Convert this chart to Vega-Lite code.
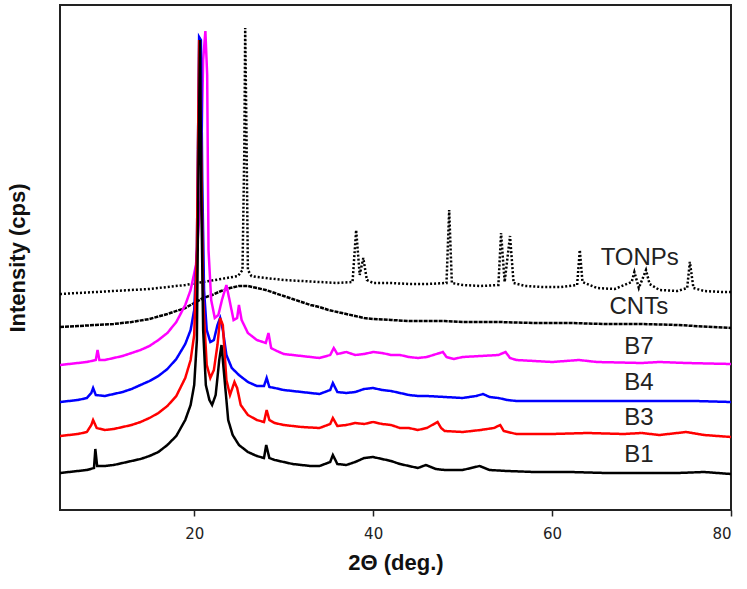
{
  "$schema": "https://vega.github.io/schema/vega-lite/v6.json",
  "width": 671,
  "height": 505,
  "autosize": "none",
  "padding": {"left": 60, "top": 5, "right": 16, "bottom": 79},
  "background": "white",
  "config": {
    "view": {"stroke": "#222", "strokeWidth": 2},
    "font": "Liberation Sans"
  },
  "datasets": {
    "xrd": [
      {"s":"TONPs","x":5,"y":216},{"s":"TONPs","x":7,"y":217},{"s":"TONPs","x":9,"y":218},{"s":"TONPs","x":11,"y":219},{"s":"TONPs","x":13,"y":220},{"s":"TONPs","x":15,"y":221},{"s":"TONPs","x":17,"y":223},{"s":"TONPs","x":19,"y":225},{"s":"TONPs","x":21,"y":228},{"s":"TONPs","x":23,"y":231},{"s":"TONPs","x":24.9,"y":234},{"s":"TONPs","x":25.4,"y":240},{"s":"TONPs","x":25.6,"y":360},{"s":"TONPs","x":25.7,"y":482},{"s":"TONPs","x":25.85,"y":370},{"s":"TONPs","x":26.0,"y":240},{"s":"TONPs","x":26.4,"y":234},{"s":"TONPs","x":27,"y":233},{"s":"TONPs","x":28,"y":232},{"s":"TONPs","x":30,"y":230},{"s":"TONPs","x":32,"y":229},{"s":"TONPs","x":34,"y":228},{"s":"TONPs","x":36,"y":227},{"s":"TONPs","x":37.7,"y":228},{"s":"TONPs","x":38.1,"y":280},{"s":"TONPs","x":38.5,"y":235},{"s":"TONPs","x":38.9,"y":252},{"s":"TONPs","x":39.3,"y":230},{"s":"TONPs","x":40,"y":227},{"s":"TONPs","x":42,"y":227},{"s":"TONPs","x":44,"y":226},{"s":"TONPs","x":46,"y":226},{"s":"TONPs","x":48.2,"y":227},{"s":"TONPs","x":48.5,"y":300},{"s":"TONPs","x":48.8,"y":227},{"s":"TONPs","x":50,"y":225},{"s":"TONPs","x":52,"y":224},{"s":"TONPs","x":54.0,"y":225},{"s":"TONPs","x":54.3,"y":277},{"s":"TONPs","x":54.7,"y":228},{"s":"TONPs","x":55.3,"y":274},{"s":"TONPs","x":55.7,"y":227},{"s":"TONPs","x":57,"y":224},{"s":"TONPs","x":59,"y":223},{"s":"TONPs","x":61,"y":223},{"s":"TONPs","x":62.8,"y":225},{"s":"TONPs","x":63.1,"y":260},{"s":"TONPs","x":63.4,"y":228},{"s":"TONPs","x":65,"y":222},{"s":"TONPs","x":67,"y":221},{"s":"TONPs","x":68.9,"y":228},{"s":"TONPs","x":69.2,"y":238},{"s":"TONPs","x":69.7,"y":222},{"s":"TONPs","x":70.5,"y":240},{"s":"TONPs","x":70.9,"y":226},{"s":"TONPs","x":72,"y":220},{"s":"TONPs","x":74,"y":219},{"s":"TONPs","x":75.1,"y":222},{"s":"TONPs","x":75.4,"y":248},{"s":"TONPs","x":75.8,"y":222},{"s":"TONPs","x":77,"y":219},{"s":"TONPs","x":79,"y":218},{"s":"TONPs","x":80,"y":218},

      {"s":"CNTs","x":5,"y":183},{"s":"CNTs","x":7,"y":184},{"s":"CNTs","x":9,"y":185},{"s":"CNTs","x":11,"y":186},{"s":"CNTs","x":13,"y":188},{"s":"CNTs","x":15,"y":191},{"s":"CNTs","x":17,"y":196},{"s":"CNTs","x":19,"y":202},{"s":"CNTs","x":20,"y":207},{"s":"CNTs","x":21,"y":212},{"s":"CNTs","x":22,"y":215},{"s":"CNTs","x":23,"y":219},{"s":"CNTs","x":24,"y":222},{"s":"CNTs","x":25,"y":224},{"s":"CNTs","x":26,"y":224},{"s":"CNTs","x":27,"y":222},{"s":"CNTs","x":28,"y":220},{"s":"CNTs","x":29,"y":217},{"s":"CNTs","x":30,"y":214},{"s":"CNTs","x":31,"y":211},{"s":"CNTs","x":32,"y":208},{"s":"CNTs","x":33,"y":205},{"s":"CNTs","x":34,"y":203},{"s":"CNTs","x":35,"y":200},{"s":"CNTs","x":36,"y":198},{"s":"CNTs","x":37,"y":196},{"s":"CNTs","x":38,"y":194},{"s":"CNTs","x":39,"y":192},{"s":"CNTs","x":40,"y":191},{"s":"CNTs","x":42,"y":190},{"s":"CNTs","x":44,"y":189},{"s":"CNTs","x":46,"y":189},{"s":"CNTs","x":48,"y":189},{"s":"CNTs","x":50,"y":188},{"s":"CNTs","x":54,"y":188},{"s":"CNTs","x":58,"y":187},{"s":"CNTs","x":62,"y":187},{"s":"CNTs","x":66,"y":186},{"s":"CNTs","x":70,"y":186},{"s":"CNTs","x":74,"y":185},{"s":"CNTs","x":78,"y":183},{"s":"CNTs","x":80,"y":182},

      {"s":"B7","x":5,"y":145},{"s":"B7","x":6,"y":146},{"s":"B7","x":7,"y":147},{"s":"B7","x":8,"y":148},{"s":"B7","x":9.0,"y":150},{"s":"B7","x":9.2,"y":160},{"s":"B7","x":9.4,"y":150},{"s":"B7","x":10,"y":150},{"s":"B7","x":11,"y":152},{"s":"B7","x":12,"y":154},{"s":"B7","x":13,"y":157},{"s":"B7","x":14,"y":160},{"s":"B7","x":15,"y":164},{"s":"B7","x":16,"y":170},{"s":"B7","x":17,"y":177},{"s":"B7","x":18,"y":188},{"s":"B7","x":19,"y":205},{"s":"B7","x":19.6,"y":220},{"s":"B7","x":20.2,"y":245},{"s":"B7","x":20.7,"y":310},{"s":"B7","x":21.0,"y":450},{"s":"B7","x":21.25,"y":479},{"s":"B7","x":21.45,"y":435},{"s":"B7","x":21.6,"y":260},{"s":"B7","x":21.9,"y":210},{"s":"B7","x":22.3,"y":192},{"s":"B7","x":22.7,"y":195},{"s":"B7","x":23.1,"y":210},{"s":"B7","x":23.6,"y":225},{"s":"B7","x":23.9,"y":212},{"s":"B7","x":24.4,"y":190},{"s":"B7","x":24.8,"y":192},{"s":"B7","x":25.0,"y":205},{"s":"B7","x":25.3,"y":190},{"s":"B7","x":26,"y":177},{"s":"B7","x":27,"y":170},{"s":"B7","x":28.0,"y":167},{"s":"B7","x":28.3,"y":177},{"s":"B7","x":28.6,"y":162},{"s":"B7","x":29,"y":160},{"s":"B7","x":30,"y":156},{"s":"B7","x":32,"y":154},{"s":"B7","x":34,"y":152},{"s":"B7","x":35.2,"y":155},{"s":"B7","x":35.6,"y":162},{"s":"B7","x":36,"y":156},{"s":"B7","x":37,"y":158},{"s":"B7","x":38,"y":155},{"s":"B7","x":39,"y":156},{"s":"B7","x":40,"y":158},{"s":"B7","x":41,"y":157},{"s":"B7","x":42,"y":155},{"s":"B7","x":43,"y":155},{"s":"B7","x":44,"y":153},{"s":"B7","x":45,"y":152},{"s":"B7","x":46,"y":153},{"s":"B7","x":47.8,"y":158},{"s":"B7","x":48.2,"y":153},{"s":"B7","x":49,"y":151},{"s":"B7","x":50,"y":153},{"s":"B7","x":52,"y":154},{"s":"B7","x":54,"y":155},{"s":"B7","x":54.8,"y":158},{"s":"B7","x":55.3,"y":152},{"s":"B7","x":56,"y":150},{"s":"B7","x":58,"y":149},{"s":"B7","x":60,"y":148},{"s":"B7","x":63,"y":150},{"s":"B7","x":65,"y":148},{"s":"B7","x":70,"y":147},{"s":"B7","x":72,"y":148},{"s":"B7","x":75,"y":147},{"s":"B7","x":80,"y":146},

      {"s":"B4","x":5,"y":108},{"s":"B4","x":6,"y":109},{"s":"B4","x":7,"y":110},{"s":"B4","x":8,"y":112},{"s":"B4","x":8.5,"y":117},{"s":"B4","x":8.7,"y":122},{"s":"B4","x":9.0,"y":115},{"s":"B4","x":10,"y":114},{"s":"B4","x":11,"y":116},{"s":"B4","x":12,"y":118},{"s":"B4","x":13,"y":121},{"s":"B4","x":14,"y":125},{"s":"B4","x":15,"y":129},{"s":"B4","x":16,"y":134},{"s":"B4","x":17,"y":141},{"s":"B4","x":18,"y":151},{"s":"B4","x":19,"y":166},{"s":"B4","x":19.6,"y":180},{"s":"B4","x":20.0,"y":200},{"s":"B4","x":20.3,"y":260},{"s":"B4","x":20.55,"y":473},{"s":"B4","x":20.75,"y":470},{"s":"B4","x":20.9,"y":330},{"s":"B4","x":21.1,"y":220},{"s":"B4","x":21.4,"y":180},{"s":"B4","x":21.8,"y":168},{"s":"B4","x":22.2,"y":170},{"s":"B4","x":22.6,"y":185},{"s":"B4","x":22.9,"y":192},{"s":"B4","x":23.2,"y":180},{"s":"B4","x":23.6,"y":155},{"s":"B4","x":24.2,"y":142},{"s":"B4","x":25,"y":135},{"s":"B4","x":26,"y":128},{"s":"B4","x":27,"y":124},{"s":"B4","x":27.8,"y":124},{"s":"B4","x":28.1,"y":132},{"s":"B4","x":28.4,"y":123},{"s":"B4","x":29,"y":122},{"s":"B4","x":30,"y":120},{"s":"B4","x":32,"y":118},{"s":"B4","x":34,"y":116},{"s":"B4","x":35.2,"y":120},{"s":"B4","x":35.5,"y":127},{"s":"B4","x":36,"y":118},{"s":"B4","x":37,"y":117},{"s":"B4","x":38,"y":118},{"s":"B4","x":39,"y":121},{"s":"B4","x":40,"y":122},{"s":"B4","x":41,"y":120},{"s":"B4","x":42,"y":119},{"s":"B4","x":43,"y":117},{"s":"B4","x":44,"y":115},{"s":"B4","x":45,"y":114},{"s":"B4","x":46,"y":114},{"s":"B4","x":48,"y":113},{"s":"B4","x":50,"y":112},{"s":"B4","x":51.5,"y":114},{"s":"B4","x":52.3,"y":116},{"s":"B4","x":53,"y":113},{"s":"B4","x":54,"y":112},{"s":"B4","x":55,"y":110},{"s":"B4","x":56,"y":109},{"s":"B4","x":60,"y":109},{"s":"B4","x":64,"y":109},{"s":"B4","x":68,"y":109},{"s":"B4","x":72,"y":109},{"s":"B4","x":76,"y":109},{"s":"B4","x":80,"y":108},

      {"s":"B3","x":5,"y":74},{"s":"B3","x":6,"y":75},{"s":"B3","x":7,"y":76},{"s":"B3","x":8,"y":78},{"s":"B3","x":8.5,"y":85},{"s":"B3","x":8.7,"y":90},{"s":"B3","x":9.1,"y":82},{"s":"B3","x":10,"y":80},{"s":"B3","x":11,"y":81},{"s":"B3","x":12,"y":83},{"s":"B3","x":13,"y":85},{"s":"B3","x":14,"y":88},{"s":"B3","x":15,"y":92},{"s":"B3","x":16,"y":97},{"s":"B3","x":17,"y":104},{"s":"B3","x":18,"y":114},{"s":"B3","x":19,"y":132},{"s":"B3","x":19.6,"y":150},{"s":"B3","x":20.0,"y":175},{"s":"B3","x":20.3,"y":260},{"s":"B3","x":20.55,"y":470},{"s":"B3","x":20.75,"y":380},{"s":"B3","x":21.0,"y":210},{"s":"B3","x":21.4,"y":145},{"s":"B3","x":21.8,"y":132},{"s":"B3","x":22.2,"y":140},{"s":"B3","x":22.6,"y":165},{"s":"B3","x":22.9,"y":192},{"s":"B3","x":23.2,"y":185},{"s":"B3","x":23.6,"y":130},{"s":"B3","x":24.0,"y":115},{"s":"B3","x":24.5,"y":128},{"s":"B3","x":24.8,"y":122},{"s":"B3","x":25.2,"y":105},{"s":"B3","x":26,"y":95},{"s":"B3","x":27,"y":90},{"s":"B3","x":27.8,"y":88},{"s":"B3","x":28.1,"y":100},{"s":"B3","x":28.4,"y":90},{"s":"B3","x":29,"y":87},{"s":"B3","x":30,"y":85},{"s":"B3","x":32,"y":83},{"s":"B3","x":34,"y":82},{"s":"B3","x":35.2,"y":86},{"s":"B3","x":35.5,"y":92},{"s":"B3","x":36,"y":84},{"s":"B3","x":37,"y":85},{"s":"B3","x":38,"y":87},{"s":"B3","x":39,"y":86},{"s":"B3","x":40,"y":88},{"s":"B3","x":41,"y":86},{"s":"B3","x":42,"y":85},{"s":"B3","x":43,"y":82},{"s":"B3","x":44,"y":82},{"s":"B3","x":45,"y":80},{"s":"B3","x":46,"y":82},{"s":"B3","x":47.2,"y":88},{"s":"B3","x":47.6,"y":82},{"s":"B3","x":48,"y":79},{"s":"B3","x":50,"y":78},{"s":"B3","x":52,"y":80},{"s":"B3","x":53.5,"y":82},{"s":"B3","x":54.2,"y":85},{"s":"B3","x":54.6,"y":79},{"s":"B3","x":56,"y":76},{"s":"B3","x":60,"y":76},{"s":"B3","x":64,"y":77},{"s":"B3","x":68,"y":76},{"s":"B3","x":70,"y":77},{"s":"B3","x":72,"y":75},{"s":"B3","x":75,"y":78},{"s":"B3","x":77,"y":75},{"s":"B3","x":80,"y":73},

      {"s":"B1","x":5,"y":37},{"s":"B1","x":6,"y":38},{"s":"B1","x":7,"y":39},{"s":"B1","x":8,"y":40},{"s":"B1","x":8.8,"y":42},{"s":"B1","x":8.95,"y":61},{"s":"B1","x":9.15,"y":44},{"s":"B1","x":10,"y":44},{"s":"B1","x":11,"y":45},{"s":"B1","x":12,"y":47},{"s":"B1","x":13,"y":49},{"s":"B1","x":14,"y":51},{"s":"B1","x":15,"y":54},{"s":"B1","x":16,"y":58},{"s":"B1","x":17,"y":65},{"s":"B1","x":18,"y":74},{"s":"B1","x":19,"y":90},{"s":"B1","x":19.6,"y":105},{"s":"B1","x":20.0,"y":125},{"s":"B1","x":20.3,"y":170},{"s":"B1","x":20.5,"y":360},{"s":"B1","x":20.65,"y":470},{"s":"B1","x":20.8,"y":310},{"s":"B1","x":21.0,"y":180},{"s":"B1","x":21.3,"y":125},{"s":"B1","x":21.7,"y":110},{"s":"B1","x":22.0,"y":105},{"s":"B1","x":22.4,"y":115},{"s":"B1","x":22.8,"y":150},{"s":"B1","x":23.05,"y":165},{"s":"B1","x":23.4,"y":130},{"s":"B1","x":23.8,"y":90},{"s":"B1","x":24.3,"y":75},{"s":"B1","x":25,"y":65},{"s":"B1","x":26,"y":58},{"s":"B1","x":27,"y":54},{"s":"B1","x":27.8,"y":52},{"s":"B1","x":28.05,"y":65},{"s":"B1","x":28.4,"y":52},{"s":"B1","x":29,"y":50},{"s":"B1","x":30,"y":48},{"s":"B1","x":31,"y":46},{"s":"B1","x":32,"y":45},{"s":"B1","x":33,"y":44},{"s":"B1","x":34,"y":44},{"s":"B1","x":35.2,"y":48},{"s":"B1","x":35.5,"y":55},{"s":"B1","x":36,"y":46},{"s":"B1","x":37,"y":45},{"s":"B1","x":38,"y":48},{"s":"B1","x":39,"y":52},{"s":"B1","x":40,"y":53},{"s":"B1","x":41,"y":51},{"s":"B1","x":42,"y":49},{"s":"B1","x":43,"y":46},{"s":"B1","x":44,"y":44},{"s":"B1","x":45,"y":42},{"s":"B1","x":45.9,"y":45},{"s":"B1","x":47,"y":41},{"s":"B1","x":48,"y":40},{"s":"B1","x":50,"y":40},{"s":"B1","x":51.9,"y":44},{"s":"B1","x":53,"y":40},{"s":"B1","x":55,"y":39},{"s":"B1","x":58,"y":38},{"s":"B1","x":62,"y":38},{"s":"B1","x":66,"y":37},{"s":"B1","x":70,"y":37},{"s":"B1","x":74,"y":37},{"s":"B1","x":77,"y":38},{"s":"B1","x":80,"y":36}
    ],
    "labels": [
      {"label":"TONPs","x":69.8,"y":252},
      {"label":"CNTs","x":69.7,"y":203},
      {"label":"B7","x":69.7,"y":163},
      {"label":"B4","x":69.7,"y":127},
      {"label":"B3","x":69.7,"y":92},
      {"label":"B1","x":69.7,"y":55}
    ]
  },
  "layer": [
    {
      "data": {"name": "xrd"},
      "mark": {"type": "line", "strokeWidth": 2.5, "clip": true},
      "encoding": {
        "x": {
          "field": "x", "type": "quantitative",
          "scale": {"domain": [5, 80], "nice": false},
          "axis": {
            "title": "2Θ (deg.)", "values": [20, 40, 60, 80], "grid": false, "domain": false,
            "tickColor": "#222", "tickSize": 6, "tickWidth": 1.5,
            "labelFontSize": 15, "labelColor": "#222", "labelPadding": 10, "labelFont": "DejaVu Sans",
            "titleFontSize": 22, "titleFontWeight": "bold", "titleColor": "#111", "titlePadding": 11
          }
        },
        "y": {
          "field": "y", "type": "quantitative",
          "scale": {"domain": [0, 505], "nice": false},
          "axis": {
            "title": "Intensity (cps)", "labels": false, "ticks": false, "domain": false, "grid": false,
            "titleFontSize": 22, "titleFontWeight": "bold", "titleColor": "#111", "titlePadding": 31
          }
        },
        "color": {
          "field": "s", "type": "nominal",
          "scale": {"domain": ["TONPs", "CNTs", "B7", "B4", "B3", "B1"], "range": ["#000000", "#000000", "#ff00ff", "#0000ff", "#ff0000", "#000000"]},
          "legend": null
        },
        "strokeDash": {
          "field": "s", "type": "nominal",
          "scale": {"domain": ["TONPs", "CNTs", "B7", "B4", "B3", "B1"], "range": [[2, 2], [4, 1], [1, 0], [1, 0], [1, 0], [1, 0]]},
          "legend": null
        }
      }
    },
    {
      "data": {"name": "labels"},
      "mark": {"type": "text", "fontSize": 24, "color": "#222", "font": "Liberation Sans"},
      "encoding": {
        "x": {"field": "x", "type": "quantitative"},
        "y": {"field": "y", "type": "quantitative"},
        "text": {"field": "label"}
      }
    }
  ]
}
